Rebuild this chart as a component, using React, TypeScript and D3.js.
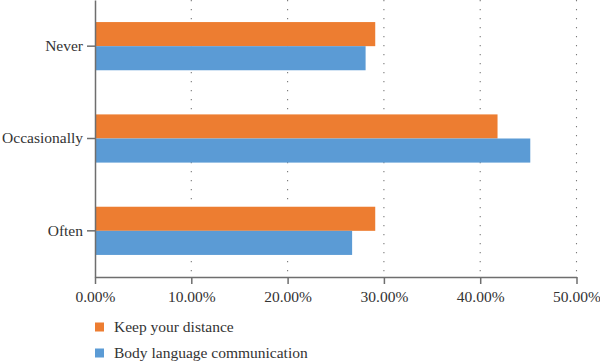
import { useEffect, useRef } from "react";
import * as d3 from "d3";

// values, in percent
const categories = ["Never", "Occasionally", "Often"];
const seriesNames = ["Keep your distance", "Body language communication"];
const keepYourDistance = [29.1, 41.8, 29.1];
const bodyLanguage = [28.1, 45.2, 26.7];
const xTicks = [0, 10, 20, 30, 40, 50];

const colors = ["#ED7D31", "#5B9BD5"];

const width = 600;
const height = 363;
const left = 95;
const right = 576.5;
const plotTop = 0;
const plotBottom = 277;

const App = () => {
    const svgRef = useRef<SVGSVGElement>(null);

    useEffect(() => {
        const svg = d3.select(svgRef.current);
        svg.selectAll("*").remove();

        const x = d3.scaleLinear().domain([0, 50]).range([left, right]);
        const y = d3
            .scaleBand()
            .domain(categories)
            .range([plotTop, plotBottom])
            .paddingInner(0.478)
            .paddingOuter(0.239);
        const inner = d3.scaleBand().domain(seriesNames).range([0, y.bandwidth()]);

        const font = "'Liberation Serif', 'Times New Roman', 'DejaVu Serif', serif";

        // dotted gridlines
        svg.append("g")
            .selectAll("line")
            .data(xTicks.slice(1))
            .enter()
            .append("line")
            .attr("x1", (d) => x(d))
            .attr("x2", (d) => x(d))
            .attr("y1", plotTop)
            .attr("y2", plotBottom)
            .attr("stroke", "#7a7a7a")
            .attr("stroke-width", 1.1)
            .attr("stroke-dasharray", "1.3,7.7");

        const rows = categories.map((c, i) => ({
            category: c,
            values: [keepYourDistance[i], bodyLanguage[i]],
        }));

        const groups = svg
            .append("g")
            .selectAll("g")
            .data(rows)
            .enter()
            .append("g")
            .attr("transform", (d) => `translate(0,${y(d.category)})`);

        groups
            .selectAll("rect")
            .data((d) => d.values.map((v, k) => ({ name: seriesNames[k], value: v, k })))
            .enter()
            .append("rect")
            .attr("x", x(0))
            .attr("y", (d) => inner(d.name) as number)
            .attr("width", (d) => x(d.value) - x(0))
            .attr("height", inner.bandwidth())
            .attr("fill", (d) => colors[d.k]);

        // x axis
        const xAxis = svg
            .append("g")
            .attr("transform", `translate(0,${plotBottom})`)
            .call(
                d3
                    .axisBottom(x)
                    .tickValues(xTicks)
                    .tickSize(7)
                    .tickSizeOuter(0)
                    .tickPadding(7)
                    .tickFormat((d) => `${(+d).toFixed(2)}%`)
            );
        xAxis.select(".domain").attr("stroke", "#6e6e6e").attr("stroke-width", 1.5);
        xAxis.selectAll(".tick line").attr("stroke", "#6e6e6e").attr("stroke-width", 1.5);
        xAxis
            .selectAll("text")
            .attr("fill", "#333")
            .style("font-family", font)
            .style("font-size", "15.5px");

        // y axis
        const yAxis = svg
            .append("g")
            .attr("transform", `translate(${left},0)`)
            .call(d3.axisLeft(y).tickSize(8).tickSizeOuter(0).tickPadding(4));
        yAxis.select(".domain").attr("stroke", "#6e6e6e").attr("stroke-width", 1.5);
        yAxis.selectAll(".tick line").attr("stroke", "#6e6e6e").attr("stroke-width", 1.5);
        yAxis
            .selectAll("text")
            .attr("fill", "#333")
            .style("font-family", font)
            .style("font-size", "15.5px");

        // legend
        const legend = svg
            .append("g")
            .selectAll("g")
            .data(seriesNames)
            .enter()
            .append("g")
            .attr("transform", (_d, i) => `translate(95,${327 + i * 26})`);
        legend
            .append("rect")
            .attr("x", 0)
            .attr("y", -4.5)
            .attr("width", 9)
            .attr("height", 9)
            .attr("fill", (_d, i) => colors[i]);
        legend
            .append("text")
            .attr("x", 19)
            .attr("dy", "0.33em")
            .attr("fill", "#333")
            .style("font-family", font)
            .style("font-size", "15.5px")
            .text((d) => d);
    }, []);

    return (
        <svg
            ref={svgRef}
            width={width}
            height={height}
            style={{ position: "absolute", left: 0, top: 0, background: "#fff" }}
        ></svg>
    );
};

export default App;
